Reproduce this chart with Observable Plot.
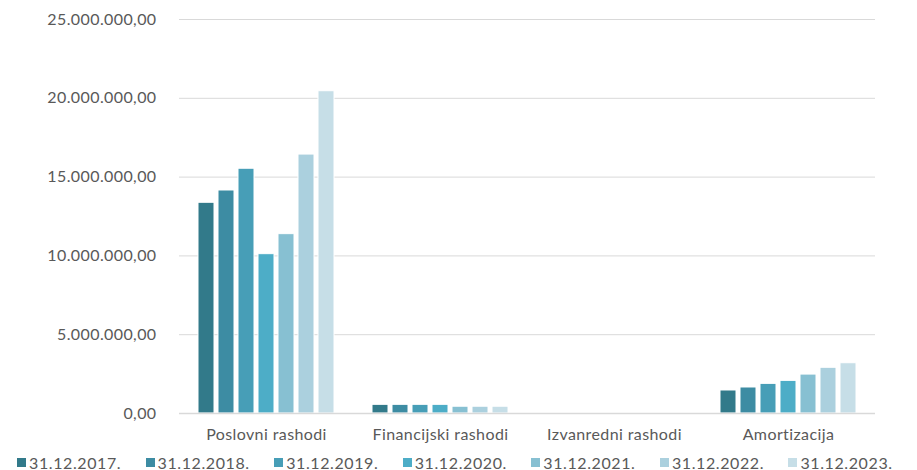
<!DOCTYPE html>
<html>
<head>
<meta charset="utf-8">
<script src="https://cdn.jsdelivr.net/npm/d3@7"></script>
<script src="https://cdn.jsdelivr.net/npm/@observablehq/plot@0.6"></script>
<style>
  html, body { margin: 0; padding: 0; background: #fff; }
  #chart { width: 917px; height: 470px; position: relative; font-family: Lato, "Open Sans", sans-serif; }
  .legend { display: flex; padding-left: 17px; height: 20px; align-items: center; margin-top: 2px; }
  .legend .item { width: 131px; display: flex; align-items: center; font-size: 16px; letter-spacing: 0.6px; color: #595959; white-space: nowrap; }
  .legend .sw { width: 9px; height: 9px; margin-right: 3px; flex: none; }
</style>
</head>
<body>
<div id="chart"></div>
<script>
const categories = ["Poslovni rashodi", "Financijski rashodi", "Izvanredni rashodi", "Amortizacija"];
const series = ["31.12.2017.", "31.12.2018.", "31.12.2019.", "31.12.2020.", "31.12.2021.", "31.12.2022.", "31.12.2023."];
const colors = ["#327a8a", "#3d8ca3", "#479eb7", "#4dadc7", "#87c0d2", "#abd0de", "#c6dee7"];
const poslovni = [13370000, 14150000, 15530000, 10110000, 11380000, 16430000, 20450000];
const financijski = [550000, 550000, 550000, 550000, 430000, 430000, 430000];
const izvanredni = [0, 0, 0, 0, 0, 0, 0];
const amortizacija = [1460000, 1650000, 1880000, 2070000, 2470000, 2900000, 3190000];
const yTicks = [0, 5000000, 10000000, 15000000, 20000000, 25000000];

const valuesByCat = [poslovni, financijski, izvanredni, amortizacija];
const data = [];
categories.forEach((c, i) => series.forEach((s, j) => data.push({category: c, series: s, value: valuesByCat[i][j]})));

const locale = d3.formatLocale({decimal: ",", thousands: ".", grouping: [3], currency: ["", ""]});
const fmt = locale.format(",.2f");

const plot = Plot.plot({
  width: 917,
  height: 450,
  marginLeft: 178,
  marginRight: 42,
  marginTop: 19,
  marginBottom: 37,
  style: {fontFamily: "Lato, 'Open Sans', sans-serif", fontSize: "16px", letterSpacing: "0.4px", color: "#595959", background: "#fff"},
  fx: {domain: categories, padding: 0, label: null},
  x: {domain: series, paddingInner: 0.2, paddingOuter: 0.8, axis: null},
  y: {domain: [0, 25000000], label: null},
  color: {domain: series, range: colors},
  marks: [
    Plot.gridY(yTicks, {stroke: "#d9d9d9", strokeOpacity: 1, strokeWidth: 1, facetAnchor: null}),
    Plot.barY(data, {fx: "category", x: "series", y: "value", fill: "series", stroke: "#fff", strokeWidth: 1}),
    Plot.ruleY([0], {stroke: "#d9d9d9", strokeWidth: 1.5, facetAnchor: null}),
    Plot.axisY(yTicks, {tickSize: 0, tickPadding: 23, tickFormat: fmt, label: null, fill: "#595959", facetAnchor: "left"}),
    Plot.axisFx({anchor: "bottom", tickSize: 0, tickPadding: 15, label: null, fill: "#595959"})
  ]
});

const root = document.getElementById("chart");
root.appendChild(plot);
const legend = document.createElement("div");
legend.className = "legend";
series.forEach((s, i) => {
  const item = document.createElement("div");
  item.className = "item";
  const sw = document.createElement("span");
  sw.className = "sw";
  sw.style.background = colors[i];
  item.appendChild(sw);
  const t = document.createElement("span");
  t.textContent = s;
  item.appendChild(t);
  legend.appendChild(item);
});
root.appendChild(legend);
</script>
</body>
</html>
